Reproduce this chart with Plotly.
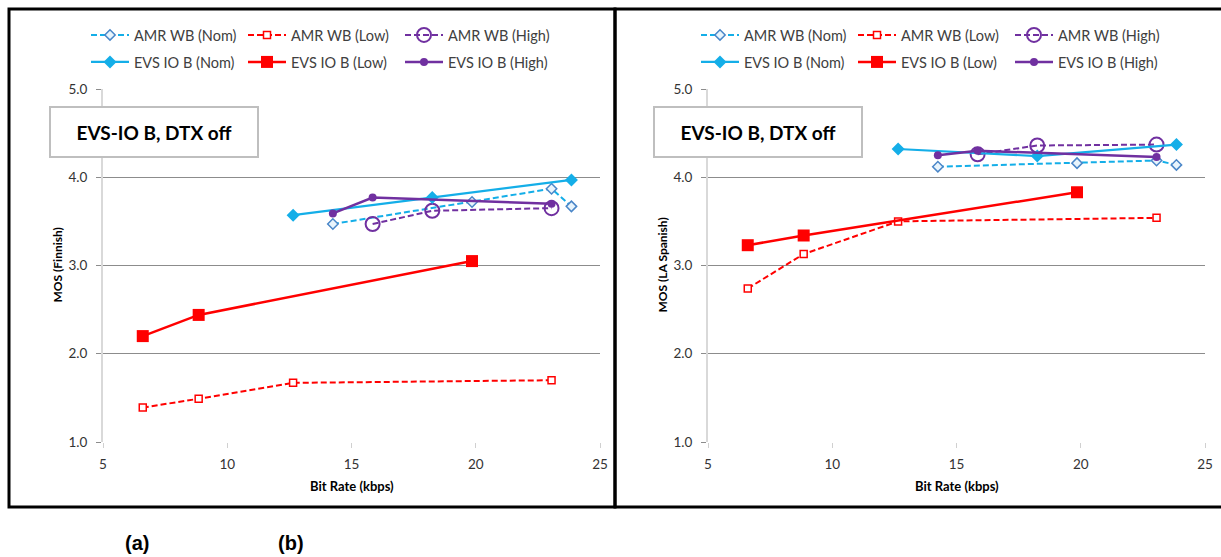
import plotly.graph_objects as go

# ---------------- data ----------------
series_names = ["AMR WB (Nom)", "AMR WB (Low)", "AMR WB (High)",
                "EVS IO B (Nom)", "EVS IO B (Low)", "EVS IO B (High)"]

amr_nom_rate = [14.25, 19.85, 23.05, 23.85]
amr_low_rate = [6.6, 8.85, 12.65, 23.05]
amr_high_rate = [15.85, 18.25, 23.05]
evs_nom_rate = [12.65, 18.25, 23.85]
evs_low_rate = [6.6, 8.85, 19.85]
evs_high_rate = [14.25, 15.85, 23.05]

# (a) Finnish
fi_amr_nom = [3.47, 3.72, 3.87, 3.67]
fi_amr_low = [1.39, 1.49, 1.67, 1.70]
fi_amr_high = [3.47, 3.62, 3.65]
fi_evs_nom = [3.57, 3.77, 3.97]
fi_evs_low = [2.20, 2.44, 3.05]
fi_evs_high = [3.59, 3.77, 3.70]

# (b) LA Spanish
es_amr_nom = [4.12, 4.16, 4.19, 4.14]
es_amr_low = [2.74, 3.13, 3.50, 3.54]
es_amr_high = [4.26, 4.36, 4.37]
es_evs_nom = [4.32, 4.24, 4.37]
es_evs_low = [3.23, 3.34, 3.83]
es_evs_high = [4.25, 4.30, 4.23]

x_ticks = [5, 10, 15, 20, 25]
y_ticks = [1, 2, 3, 4, 5]
box_text = "EVS-IO B, DTX off"
y_titles = ["MOS (Finnish)", "MOS (LA Spanish)"]
x_title = "Bit Rate (kbps)"
panel_labels = ["(a)", "(b)"]

# ---------------- styles ----------------
W, H = 1221, 557
FONT = "Lato"
BLUE = "#14aee8"
BLUE_EDGE = "#4a86c8"
RED = "#ff0000"
PURPLE = "#7030a0"
DASH = "6px,3px"

styles = [
    dict(line=dict(color=BLUE, width=2, dash=DASH),
         marker=dict(symbol="diamond", size=8, color="#e8f4fc", line=dict(color=BLUE_EDGE, width=1.5))),
    dict(line=dict(color=RED, width=2, dash=DASH),
         marker=dict(symbol="square", size=7, color="white", line=dict(color=RED, width=1.5))),
    dict(line=dict(color=PURPLE, width=2, dash=DASH),
         marker=dict(symbol="circle-open", size=14, color=PURPLE, line=dict(width=2))),
    dict(line=dict(color=BLUE, width=2.2),
         marker=dict(symbol="diamond", size=10, color=BLUE)),
    dict(line=dict(color=RED, width=2.5),
         marker=dict(symbol="square", size=12, color=RED)),
    dict(line=dict(color=PURPLE, width=2.5),
         marker=dict(symbol="circle", size=8, color=PURPLE)),
]

rates = [amr_nom_rate, amr_low_rate, amr_high_rate, evs_nom_rate, evs_low_rate, evs_high_rate]
panels = [
    [fi_amr_nom, fi_amr_low, fi_amr_high, fi_evs_nom, fi_evs_low, fi_evs_high],
    [es_amr_nom, es_amr_low, es_amr_high, es_evs_nom, es_evs_low, es_evs_high],
]

def px_x(p):
    return p / W

def px_y(p):
    return 1 - p / H

fig = go.Figure()

for pi, vals in enumerate(panels):
    xa = "x" if pi == 0 else "x2"
    ya = "y" if pi == 0 else "y2"
    for si in range(6):
        row = si // 3
        leg_idx = pi * 2 + row + 1
        leg = "legend" if leg_idx == 1 else f"legend{leg_idx}"
        fig.add_trace(go.Scatter(
            x=rates[si], y=vals[si], name=series_names[si], mode="lines+markers",
            xaxis=xa, yaxis=ya, legend=leg, **styles[si]))

# axes
plot_left = [103, 708]
plot_right = [600, 1205]
y_top, y_bot = 89, 442

for pi in range(2):
    sfx = "" if pi == 0 else "2"
    fig.layout["xaxis" + sfx] = dict(
        domain=[px_x(plot_left[pi]), px_x(plot_right[pi])], range=[5, 25],
        tickvals=x_ticks, showgrid=False, zeroline=False,
        showline=True, linecolor="white", linewidth=1,
        ticks="outside", ticklen=5, tickcolor="#d0d0d0", tickwidth=1,
        ticklabelstandoff=5,
        tickfont=dict(family=FONT, size=13.5, color="#333333"),
        anchor="y" + sfx, fixedrange=True, automargin=False)
    fig.layout["yaxis" + sfx] = dict(
        domain=[px_y(y_bot), px_y(y_top)], range=[1, 5],
        tickvals=y_ticks, tickformat=".1f",
        showgrid=True, gridcolor="#8c8c8c", gridwidth=1, zeroline=False,
        showline=True, linecolor="#d9d9d9", linewidth=2,
        ticks="outside", ticklen=5, tickcolor="#8c8c8c",
        ticklabelstandoff=6,
        tickfont=dict(family=FONT, size=13.5, color="#333333"),
        anchor="x" + sfx, fixedrange=True, automargin=False)

# legends (two rows per panel)
leg_x = [86, 696]
leg_rows_y = [35, 62]
for pi in range(2):
    for row in range(2):
        idx = pi * 2 + row + 1
        name = "legend" if idx == 1 else f"legend{idx}"
        fig.layout[name] = dict(
            orientation="h", x=px_x(leg_x[pi]), xanchor="left",
            y=px_y(leg_rows_y[row]), yanchor="middle",
            entrywidth=104, entrywidthmode="pixels", itemwidth=38,
            font=dict(family=FONT, size=14.5, color="#404040"),
            bgcolor="rgba(0,0,0,0)", borderwidth=0, itemclick=False)

annotations = []
shapes = []
box_centers = [154, 758]
ytitle_x = [57, 662]
for pi in range(2):
    annotations.append(dict(
        text="<b>" + box_text + "</b>", x=px_x(box_centers[pi]), y=px_y(132),
        xref="paper", yref="paper", showarrow=False, xanchor="center", yanchor="middle",
        width=204, height=46, bgcolor="white", bordercolor="#bfbfbf", borderwidth=2,
        font=dict(family=FONT, size=19, color="black")))
    annotations.append(dict(
        text="<b>" + y_titles[pi] + "</b>", x=px_x(ytitle_x[pi]), y=px_y((y_top + y_bot) / 2),
        xref="paper", yref="paper", showarrow=False, textangle=-90,
        xanchor="center", yanchor="middle",
        font=dict(family=FONT, size=12, color="black")))
    annotations.append(dict(
        text="<b>" + x_title + "</b>", x=px_x((plot_left[pi] + plot_right[pi]) / 2), y=px_y(486),
        xref="paper", yref="paper", showarrow=False, xanchor="center", yanchor="middle",
        font=dict(family=FONT, size=13, color="black")))

label_x = [137, 291]
for i, lab in enumerate(panel_labels):
    annotations.append(dict(
        text="<b>" + lab + "</b>", x=px_x(label_x[i]), y=px_y(543),
        xref="paper", yref="paper", showarrow=False, xanchor="center", yanchor="middle",
        font=dict(family="Liberation Sans", size=20, color="black")))

# panel frames
frames = [(9, 615), (615, 1226)]
for x0, x1 in frames:
    shapes.append(dict(type="rect", xref="paper", yref="paper",
                       x0=px_x(x0), x1=px_x(x1), y0=px_y(507), y1=px_y(9),
                       line=dict(color="black", width=3), layer="above"))

fig.update_layout(
    width=W, height=H, margin=dict(l=0, r=0, t=0, b=0, autoexpand=False),
    paper_bgcolor="white", plot_bgcolor="white",
    annotations=annotations, shapes=shapes,
    font=dict(family=FONT),
)

fig.write_html("out.html", config={"displayModeBar": False},
               post_script="document.body.style.margin='0';document.body.style.overflow='hidden';")
